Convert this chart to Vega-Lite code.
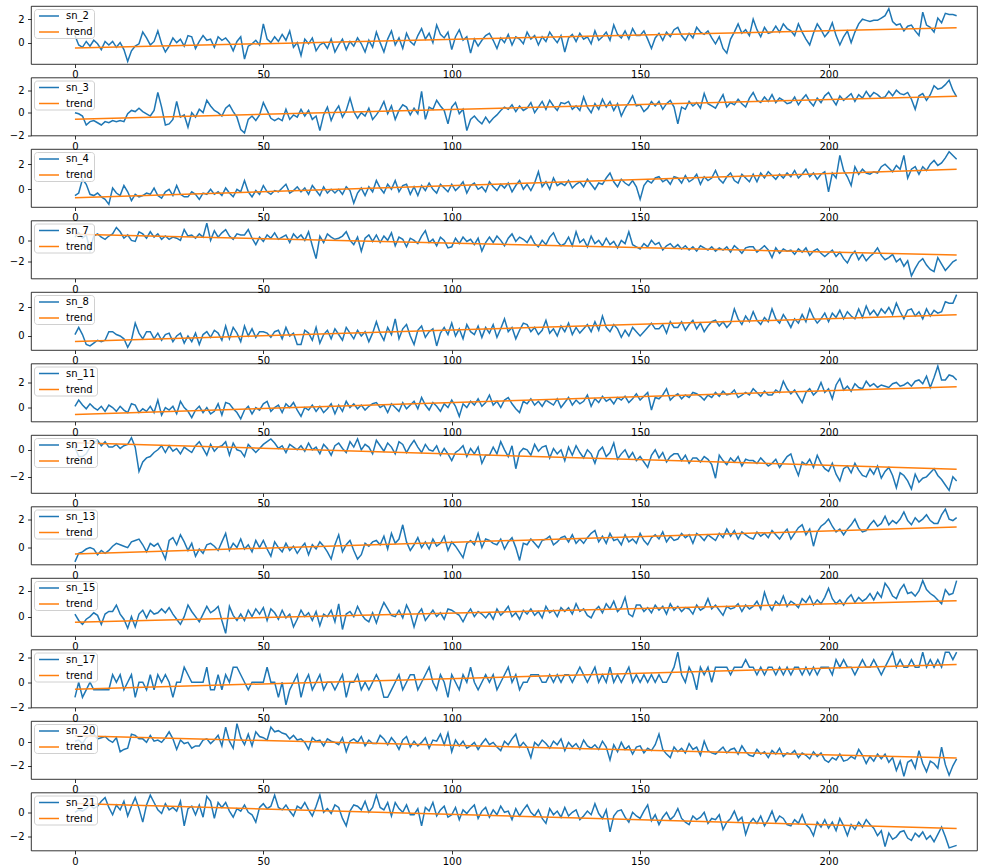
{
"$schema":"https://vega.github.io/schema/vega-lite/v6.json",
"padding":{"left":8,"top":5,"right":0,"bottom":0},
"spacing":13.5,
"bounds":"flush",
"resolve":{"scale":{"x":"independent","y":"independent","color":"independent"},"legend":{"color":"independent"}},
"config":{
"font":"DejaVu Sans",
"view":{"stroke":"#000000","strokeWidth":0.8},
"axis":{"domain":false,"grid":false,"tickColor":"#000000","tickSize":3.5,"tickWidth":0.8,"labelColor":"#000000","labelFontSize":10,"labelFont":"DejaVu Sans","labelOverlap":false,"tickCount":10,"format":"d"},
"axisX":{"labelPadding":2},
"axisY":{"labelPadding":3.5},
"legend":{"orient":"top-left","offset":3,"padding":1,"rowPadding":5,"fillColor":"rgba(255,255,255,0.8)","strokeColor":"#d0d0d0","cornerRadius":3,"symbolSize":100,"symbolStrokeWidth":1.5,"labelFontSize":10,"labelFont":"DejaVu Sans","labelColor":"#000000","labelOffset":19}
},
"datasets":{
"trend":[
{"x":0,"s2":-0.46,"s3":-0.59,"s4":-0.68,"s7":0.57,"s8":-0.39,"s11":-0.55,"s12":0.53,"s13":-0.44,"s15":-0.43,"s17":-0.55,"s20":0.56,"s21":0.71},
{"x":234,"s2":1.26,"s3":1.47,"s4":1.59,"s7":-1.37,"s8":1.49,"s11":1.66,"s12":-1.43,"s13":1.45,"s15":1.23,"s17":1.42,"s20":-1.34,"s21":-1.33}
],
"series":[
{"x":0,"s2":0.6,"s3":0,"s4":-0.5,"s7":0.3,"s8":0.1,"s11":0.1,"s12":0.2,"s13":-1,"s15":0.2,"s17":-1.2,"s20":0.1,"s21":0},
{"x":1,"s2":-0.2,"s3":-0.1,"s4":-0.3,"s7":0.7,"s8":0.6,"s11":0.6,"s12":-0.5,"s13":-0.4,"s15":-0.3,"s17":0,"s20":0.2,"s21":0.2},
{"x":2,"s2":-0.4,"s3":-0.3,"s4":0.8,"s7":0.2,"s8":0.1,"s11":0.2,"s12":-0.5,"s13":-0.3,"s15":-0.6,"s17":-1.2,"s20":-0.1,"s21":0.1},
{"x":3,"s2":0.1,"s3":-1.1,"s4":0.4,"s7":0.5,"s8":-0.6,"s11":-0.1,"s12":-0.3,"s13":-0.1,"s15":-0.2,"s17":-0.6,"s20":0.4,"s21":0.3},
{"x":4,"s2":-0.3,"s3":-0.8,"s4":-0.4,"s7":-0.9,"s8":-0.7,"s11":0.3,"s12":0.2,"s13":0,"s15":0,"s17":0,"s20":0.6,"s21":0.6},
{"x":5,"s2":0.2,"s3":-0.7,"s4":-0.5,"s7":0.4,"s8":-0.5,"s11":0,"s12":0.5,"s13":-0.1,"s15":0.3,"s17":-0.6,"s20":0.7,"s21":0.3},
{"x":6,"s2":-0.1,"s3":-0.9,"s4":-0.3,"s7":0.6,"s8":-0.3,"s11":-0.2,"s12":0.7,"s13":-0.5,"s15":0.1,"s17":-0.6,"s20":0.3,"s21":0.5},
{"x":7,"s2":-0.6,"s3":-1.1,"s4":-0.6,"s7":0.3,"s8":-0.4,"s11":0.1,"s12":0.3,"s13":-0.2,"s15":-0.6,"s17":-0.6,"s20":0.4,"s21":0.9},
{"x":8,"s2":0.1,"s3":-0.8,"s4":-0.8,"s7":0.1,"s8":-0.3,"s11":-0.3,"s12":0.6,"s13":-0.4,"s15":0.2,"s17":-0.6,"s20":0.5,"s21":1.2},
{"x":9,"s2":-0.2,"s3":-0.9,"s4":-1.2,"s7":0.4,"s8":0.3,"s11":0.2,"s12":0.2,"s13":-0.2,"s15":0.4,"s17":-0.6,"s20":0.2,"s21":0.4},
{"x":10,"s2":0.1,"s3":-0.7,"s4":0.1,"s7":0.6,"s8":0.3,"s11":0,"s12":0.2,"s13":0.1,"s15":0.4,"s17":0.6,"s20":0,"s21":-0.2},
{"x":11,"s2":-0.4,"s3":-0.8,"s4":-0.3,"s7":1.2,"s8":0.1,"s11":-0.3,"s12":0.4,"s13":0.3,"s15":0.9,"s17":0,"s20":0.4,"s21":0.6},
{"x":12,"s2":0,"s3":-0.7,"s4":-0.5,"s7":0.8,"s8":0,"s11":0.1,"s12":0.1,"s13":0.2,"s15":0.2,"s17":0.6,"s20":-0.8,"s21":0.2},
{"x":13,"s2":-0.6,"s3":-0.8,"s4":0.3,"s7":0.2,"s8":-0.2,"s11":-0.2,"s12":0.3,"s13":0.1,"s15":-0.2,"s17":-0.6,"s20":-0.6,"s21":0.9},
{"x":14,"s2":-1.6,"s3":-0.1,"s4":-0.2,"s7":0.5,"s8":-0.8,"s11":-0.4,"s12":0.4,"s13":0,"s15":-0.9,"s17":0,"s20":-0.5,"s21":-0.3},
{"x":15,"s2":-0.7,"s3":0.2,"s4":-0.9,"s7":0,"s8":-0.3,"s11":0.3,"s12":0.9,"s13":0.4,"s15":0,"s17":0.6,"s20":0.7,"s21":0.5},
{"x":16,"s2":-0.3,"s3":0.1,"s4":-0.4,"s7":-0.1,"s8":0.9,"s11":0.2,"s12":0.2,"s13":0.5,"s15":-0.8,"s17":-1.2,"s20":0.6,"s21":1.2},
{"x":17,"s2":-0.1,"s3":0.4,"s4":-0.6,"s7":0.8,"s8":0.2,"s11":-0.4,"s12":-1.6,"s13":0.6,"s15":0.2,"s17":0,"s20":0.3,"s21":0.3},
{"x":18,"s2":0.9,"s3":0.1,"s4":-0.5,"s7":0.6,"s8":-0.2,"s11":-0.1,"s12":-0.9,"s13":0.2,"s15":0.5,"s17":0,"s20":0.3,"s21":-0.8},
{"x":19,"s2":0.4,"s3":-0.1,"s4":-0.3,"s7":0.2,"s8":0.3,"s11":-0.3,"s12":-0.6,"s13":-0.3,"s15":-0.1,"s17":-0.6,"s20":0,"s21":0.6},
{"x":20,"s2":-0.2,"s3":-0.3,"s4":-0.4,"s7":0.8,"s8":0.3,"s11":0.1,"s12":-0.5,"s13":0.3,"s15":0.5,"s17":0.6,"s20":0.6,"s21":1.4},
{"x":21,"s2":0.1,"s3":0.2,"s4":0.1,"s7":0.3,"s8":-0.2,"s11":-0.4,"s12":-0.2,"s13":0.1,"s15":0.2,"s17":-0.6,"s20":0.1,"s21":0.8},
{"x":22,"s2":1,"s3":1.8,"s4":-0.5,"s7":0.6,"s8":0.2,"s11":0.6,"s12":0,"s13":0.3,"s15":0.3,"s17":0.6,"s20":0.2,"s21":0.2},
{"x":23,"s2":-0.1,"s3":0.5,"s4":-0.7,"s7":0.1,"s8":-0.3,"s11":-0.6,"s12":0.3,"s13":-0.2,"s15":0.6,"s17":0,"s20":0,"s21":-0.1},
{"x":24,"s2":-0.8,"s3":-1.1,"s4":-0.2,"s7":0.4,"s8":0.1,"s11":0,"s12":-0.2,"s13":-0.8,"s15":0.3,"s17":0.6,"s20":0.4,"s21":0.7},
{"x":25,"s2":-0.3,"s3":-1,"s4":0,"s7":0.1,"s8":0.2,"s11":-0.2,"s12":0.3,"s13":0.5,"s15":0.7,"s17":0,"s20":0.9,"s21":0.2},
{"x":26,"s2":0.4,"s3":-0.6,"s4":-0.5,"s7":0.3,"s8":-0.4,"s11":0.1,"s12":-0.1,"s13":0.7,"s15":0.2,"s17":-1.2,"s20":0.3,"s21":0.4},
{"x":27,"s2":0,"s3":1,"s4":0.3,"s7":0.2,"s8":0,"s11":-0.5,"s12":0.1,"s13":0.2,"s15":-0.2,"s17":0,"s20":-0.6,"s21":0.1},
{"x":28,"s2":0.3,"s3":-0.4,"s4":-0.4,"s7":0,"s8":0.2,"s11":0.5,"s12":-0.3,"s13":0.9,"s15":-0.6,"s17":0,"s20":0.2,"s21":0.9},
{"x":29,"s2":-0.3,"s3":-0.2,"s4":-0.6,"s7":1,"s8":-0.5,"s11":0,"s12":0.2,"s13":0.4,"s15":0,"s17":1.2,"s20":-0.1,"s21":-1.1},
{"x":30,"s2":0.6,"s3":-1.3,"s4":-0.6,"s7":0.4,"s8":0,"s11":-0.3,"s12":0,"s13":-0.2,"s15":0.9,"s17":0.6,"s20":0,"s21":0.3},
{"x":31,"s2":0.5,"s3":0,"s4":-0.2,"s7":0.5,"s8":-0.4,"s11":-0.8,"s12":-0.2,"s13":0.3,"s15":0.4,"s17":0,"s20":-0.5,"s21":0.5},
{"x":32,"s2":-0.5,"s3":-0.4,"s4":-0.4,"s7":0.2,"s8":0.2,"s11":-0.2,"s12":0.3,"s13":-0.6,"s15":0,"s17":0,"s20":-0.3,"s21":-0.2},
{"x":33,"s2":0.1,"s3":0.3,"s4":-0.8,"s7":0.6,"s8":-0.6,"s11":0.1,"s12":0.6,"s13":-0.1,"s15":-0.4,"s17":0,"s20":-0.3,"s21":0.6},
{"x":34,"s2":0.6,"s3":0,"s4":-0.3,"s7":0.3,"s8":0.1,"s11":-0.4,"s12":0.1,"s13":-0.4,"s15":0.2,"s17":0,"s20":0.2,"s21":-0.4},
{"x":35,"s2":0.2,"s3":1.1,"s4":-0.4,"s7":1.6,"s8":0.3,"s11":0,"s12":-0.4,"s13":0.2,"s15":0.8,"s17":1.2,"s20":0.3,"s21":1.3},
{"x":36,"s2":0.3,"s3":0.6,"s4":0,"s7":0,"s8":-0.1,"s11":-0.5,"s12":0.4,"s13":0.3,"s15":0.3,"s17":-0.6,"s20":-0.1,"s21":0.9},
{"x":37,"s2":-0.4,"s3":0.2,"s4":-0.4,"s7":0.9,"s8":0.4,"s11":-0.3,"s12":-0.1,"s13":0.1,"s15":0.5,"s17":-0.6,"s20":0.2,"s21":-0.5},
{"x":38,"s2":0.5,"s3":0,"s4":-0.2,"s7":0.3,"s8":0.2,"s11":0.3,"s12":0.2,"s13":-0.2,"s15":0.8,"s17":0.6,"s20":0.6,"s21":0.8},
{"x":39,"s2":0.2,"s3":-0.3,"s4":-0.5,"s7":0.7,"s8":-0.3,"s11":-0.6,"s12":0.3,"s13":0.4,"s15":-0.3,"s17":-0.6,"s20":-0.3,"s21":0.4},
{"x":40,"s2":0.4,"s3":0.4,"s4":0.1,"s7":1,"s8":0.7,"s11":0.4,"s12":0.6,"s13":1,"s15":-1.3,"s17":0.6,"s20":1.3,"s21":0.8},
{"x":41,"s2":0,"s3":0.7,"s4":-0.3,"s7":0.4,"s8":-0.2,"s11":0.3,"s12":-0.4,"s13":-0.2,"s15":0.8,"s17":0,"s20":0.1,"s21":0.1},
{"x":42,"s2":-0.7,"s3":0.1,"s4":-0.6,"s7":0.1,"s8":0.6,"s11":-0.1,"s12":0.5,"s13":0.3,"s15":0.1,"s17":1.2,"s20":-0.5,"s21":-0.4},
{"x":43,"s2":0.1,"s3":-0.4,"s4":0,"s7":0.6,"s8":0.2,"s11":-0.4,"s12":0,"s13":0,"s15":-0.3,"s17":1.2,"s20":1.6,"s21":0.3},
{"x":44,"s2":0.5,"s3":-1.5,"s4":-0.2,"s7":0.5,"s8":-0.4,"s11":-0.9,"s12":-0.1,"s13":0.6,"s15":0.2,"s17":0.6,"s20":0.4,"s21":0.1},
{"x":45,"s2":-1.4,"s3":-1.8,"s4":0.7,"s7":0.5,"s8":0.7,"s11":-0.2,"s12":-0.5,"s13":-0.1,"s15":-0.3,"s17":0,"s20":-0.2,"s21":0.6},
{"x":46,"s2":-0.3,"s3":-0.6,"s4":-0.2,"s7":1,"s8":0,"s11":0.1,"s12":0.4,"s13":0.2,"s15":0.5,"s17":-0.6,"s20":0.7,"s21":0},
{"x":47,"s2":-0.1,"s3":-0.3,"s4":-0.6,"s7":0.2,"s8":0.5,"s11":-0.5,"s12":0.1,"s13":-0.3,"s15":0,"s17":0,"s20":-0.3,"s21":-0.2},
{"x":48,"s2":0.2,"s3":-0.7,"s4":-0.1,"s7":-0.4,"s8":-0.1,"s11":0,"s12":-0.2,"s13":0.5,"s15":0.6,"s17":0,"s20":0.9,"s21":-0.8},
{"x":49,"s2":-0.2,"s3":-0.2,"s4":-0.4,"s7":0.3,"s8":0.3,"s11":-0.2,"s12":0.1,"s13":0,"s15":0.2,"s17":0,"s20":0.5,"s21":0.4},
{"x":50,"s2":1.6,"s3":0.9,"s4":0.3,"s7":-0.1,"s8":0.3,"s11":0.3,"s12":0.4,"s13":0.5,"s15":0.7,"s17":0,"s20":0.4,"s21":0.7},
{"x":51,"s2":0.3,"s3":0.2,"s4":-0.2,"s7":0.5,"s8":0.2,"s11":0.5,"s12":0.6,"s13":-0.1,"s15":-0.3,"s17":1.2,"s20":0.2,"s21":0.3},
{"x":52,"s2":0,"s3":-0.5,"s4":-0.4,"s7":0.2,"s8":-0.1,"s11":-0.3,"s12":0.8,"s13":-0.6,"s15":0.6,"s17":0,"s20":1.3,"s21":0.5},
{"x":53,"s2":0.5,"s3":-0.7,"s4":-0.1,"s7":0.7,"s8":0.3,"s11":0,"s12":0.5,"s13":0.4,"s15":0.3,"s17":0,"s20":0.9,"s21":1.4},
{"x":54,"s2":0.1,"s3":-0.5,"s4":-0.2,"s7":0.1,"s8":0.4,"s11":0.2,"s12":0.1,"s13":0,"s15":-0.2,"s17":-1.2,"s20":1,"s21":0.4},
{"x":55,"s2":0.7,"s3":-0.7,"s4":0.1,"s7":0.3,"s8":-0.2,"s11":-0.4,"s12":0.3,"s13":-0.3,"s15":0.5,"s17":0,"s20":0.8,"s21":0.2},
{"x":56,"s2":0.2,"s3":0.3,"s4":0.4,"s7":0.5,"s8":0.6,"s11":0.3,"s12":-0.2,"s13":0.3,"s15":-0.1,"s17":-1.8,"s20":0.7,"s21":0.6},
{"x":57,"s2":1,"s3":-0.6,"s4":-0.3,"s7":-0.2,"s8":0,"s11":0,"s12":0.4,"s13":-0.2,"s15":0.2,"s17":-0.6,"s20":0.3,"s21":0.1},
{"x":58,"s2":-0.4,"s3":-0.2,"s4":-0.1,"s7":0.6,"s8":0.2,"s11":0.4,"s12":0.2,"s13":0.1,"s15":-0.8,"s17":0,"s20":0.6,"s21":-0.3},
{"x":59,"s2":0,"s3":-0.4,"s4":0.2,"s7":0.2,"s8":-0.6,"s11":-0.2,"s12":0,"s13":-0.4,"s15":-0.2,"s17":0.6,"s20":0.2,"s21":0.5},
{"x":60,"s2":-1.1,"s3":0.3,"s4":-0.2,"s7":0.5,"s8":-0.6,"s11":-0.7,"s12":0.3,"s13":0,"s15":0.5,"s17":-1.2,"s20":0.3,"s21":0.3},
{"x":61,"s2":0.3,"s3":-0.3,"s4":0.1,"s7":0,"s8":0.4,"s11":0,"s12":-0.1,"s13":0.3,"s15":0,"s17":0,"s20":0,"s21":0.8},
{"x":62,"s2":-0.1,"s3":0.2,"s4":-0.4,"s7":0.8,"s8":0.2,"s11":-0.2,"s12":0.5,"s13":-0.5,"s15":0.3,"s17":0.6,"s20":-0.6,"s21":0.2},
{"x":63,"s2":0.4,"s3":-0.6,"s4":0.3,"s7":-0.5,"s8":-0.3,"s11":0.2,"s12":0,"s13":0.2,"s15":-0.3,"s17":-0.6,"s20":0.4,"s21":-0.3},
{"x":64,"s2":-0.7,"s3":-0.3,"s4":-0.1,"s7":-1.7,"s8":0.6,"s11":-0.3,"s12":0.2,"s13":-0.1,"s15":0.4,"s17":0,"s20":0.1,"s21":0.5},
{"x":65,"s2":-0.2,"s3":-1.6,"s4":-0.5,"s7":0.4,"s8":-0.5,"s11":0.1,"s12":-0.3,"s13":0.4,"s15":-0.7,"s17":0.6,"s20":0.2,"s21":1.4},
{"x":66,"s2":0,"s3":-0.2,"s4":0.2,"s7":-0.2,"s8":0.1,"s11":-0.4,"s12":0.4,"s13":0.1,"s15":0.2,"s17":-0.6,"s20":-0.3,"s21":0},
{"x":67,"s2":-0.5,"s3":0.5,"s4":-0.3,"s7":0.6,"s8":0.4,"s11":-0.1,"s12":0.1,"s13":-0.3,"s15":0,"s17":0,"s20":0.3,"s21":0.3},
{"x":68,"s2":0.3,"s3":-0.7,"s4":0,"s7":0.3,"s8":-0.2,"s11":0.3,"s12":-0.4,"s13":-0.8,"s15":0.5,"s17":0,"s20":0.1,"s21":-0.1},
{"x":69,"s2":-0.8,"s3":0.1,"s4":-0.3,"s7":0.1,"s8":0.5,"s11":-0.5,"s12":0.3,"s13":0.2,"s15":-0.4,"s17":-0.6,"s20":0,"s21":0.6},
{"x":70,"s2":-0.2,"s3":0.6,"s4":0,"s7":0.2,"s8":0.1,"s11":0.2,"s12":0.5,"s13":0.9,"s15":1,"s17":0,"s20":-0.2,"s21":0.4},
{"x":71,"s2":0.3,"s3":-0.4,"s4":-0.4,"s7":0.4,"s8":-0.3,"s11":-0.3,"s12":0.1,"s13":-0.3,"s15":-1,"s17":0.6,"s20":0.4,"s21":-0.5},
{"x":72,"s2":-0.6,"s3":0.2,"s4":0.2,"s7":0.8,"s8":0.6,"s11":0.5,"s12":-0.2,"s13":0.2,"s15":0.2,"s17":-1.2,"s20":-0.8,"s21":-1.1},
{"x":73,"s2":0.1,"s3":1.3,"s4":-0.1,"s7":0,"s8":0.2,"s11":0,"s12":0.6,"s13":0.5,"s15":0.4,"s17":0,"s20":0.1,"s21":0.1},
{"x":74,"s2":-0.3,"s3":0.1,"s4":-1.1,"s7":-0.4,"s8":-0.2,"s11":0.3,"s12":0.2,"s13":-0.2,"s15":0,"s17":0,"s20":0.3,"s21":0.6},
{"x":75,"s2":0.4,"s3":-0.5,"s4":-0.3,"s7":0.3,"s8":0.4,"s11":-0.1,"s12":0.8,"s13":-0.8,"s15":0.8,"s17":0.6,"s20":0,"s21":0.5},
{"x":76,"s2":-0.1,"s3":0,"s4":0.1,"s7":-1,"s8":0,"s11":0.2,"s12":0,"s13":-0.5,"s15":0.2,"s17":-0.6,"s20":0.5,"s21":0.2},
{"x":77,"s2":-0.8,"s3":-0.3,"s4":-0.5,"s7":0.2,"s8":0.3,"s11":-0.2,"s12":0.4,"s13":0.3,"s15":-0.2,"s17":0,"s20":-0.3,"s21":0.9},
{"x":78,"s2":0.2,"s3":0.4,"s4":0.2,"s7":0.5,"s8":-0.4,"s11":0.1,"s12":0.2,"s13":0.1,"s15":-0.4,"s17":-0.6,"s20":0.2,"s21":0},
{"x":79,"s2":-0.4,"s3":-0.6,"s4":-0.2,"s7":-0.1,"s8":0.2,"s11":0.3,"s12":-0.3,"s13":0.4,"s15":0.3,"s17":0,"s20":-0.1,"s21":0.4},
{"x":80,"s2":0.9,"s3":-0.2,"s4":0.7,"s7":0.5,"s8":1,"s11":0.4,"s12":0.7,"s13":0.5,"s15":-0.5,"s17":0.6,"s20":-0.1,"s21":1.4},
{"x":81,"s2":0,"s3":0.3,"s4":0.1,"s7":-0.2,"s8":0.2,"s11":0,"s12":0.3,"s13":0.2,"s15":0.4,"s17":0,"s20":0.6,"s21":0.4},
{"x":82,"s2":-0.8,"s3":1,"s4":-0.3,"s7":0.4,"s8":-0.3,"s11":0.2,"s12":-0.1,"s13":0.8,"s15":1.1,"s17":-1.2,"s20":0.3,"s21":0.2},
{"x":83,"s2":0.3,"s3":-0.1,"s4":0.4,"s7":0,"s8":0.6,"s11":-0.4,"s12":0.5,"s13":-0.1,"s15":0.6,"s17":-1.2,"s20":-0.2,"s21":0.8},
{"x":84,"s2":1,"s3":0.6,"s4":0,"s7":0.7,"s8":0.1,"s11":0.3,"s12":0.2,"s13":1,"s15":0.1,"s17":-0.6,"s20":0.4,"s21":-0.3},
{"x":85,"s2":-0.2,"s3":-0.6,"s4":0.7,"s7":-0.5,"s8":1.2,"s11":0,"s12":-0.3,"s13":0.3,"s15":0,"s17":0,"s20":0,"s21":0.8},
{"x":86,"s2":0.4,"s3":0.2,"s4":-0.2,"s7":0.3,"s8":-0.2,"s11":-0.3,"s12":0.6,"s13":0.6,"s15":0.5,"s17":0.6,"s20":-0.6,"s21":0.3},
{"x":87,"s2":-0.5,"s3":0.7,"s4":0.3,"s7":0.1,"s8":0.5,"s11":0.4,"s12":0.4,"s13":1.6,"s15":-0.1,"s17":-0.6,"s20":0.2,"s21":0},
{"x":88,"s2":0.8,"s3":0.5,"s4":0.4,"s7":-0.6,"s8":0.8,"s11":-0.1,"s12":-0.2,"s13":0.4,"s15":0.9,"s17":0,"s20":0.5,"s21":0.6},
{"x":89,"s2":0.1,"s3":-0.2,"s4":-0.4,"s7":0.2,"s8":0,"s11":0.2,"s12":0.3,"s13":-0.2,"s15":0.3,"s17":0.6,"s20":-0.4,"s21":-0.2},
{"x":90,"s2":-0.2,"s3":0.4,"s4":0.2,"s7":0,"s8":-0.6,"s11":0.5,"s12":0.7,"s13":0.2,"s15":-0.8,"s17":0.6,"s20":0.1,"s21":-0.2},
{"x":91,"s2":0.6,"s3":-0.1,"s4":-0.5,"s7":-0.3,"s8":0.4,"s11":-0.1,"s12":0.2,"s13":0.7,"s15":0.2,"s17":-0.6,"s20":-0.3,"s21":0.3},
{"x":92,"s2":1.2,"s3":1.9,"s4":0.3,"s7":0.4,"s8":0.7,"s11":0.8,"s12":-0.2,"s13":0,"s15":0.6,"s17":0,"s20":0,"s21":-1.1},
{"x":93,"s2":0.3,"s3":-0.6,"s4":-0.1,"s7":0.9,"s8":-0.1,"s11":0.2,"s12":0.4,"s13":0.4,"s15":-0.3,"s17":0.6,"s20":0.4,"s21":0.4},
{"x":94,"s2":0.8,"s3":0.5,"s4":0.5,"s7":-0.2,"s8":0.3,"s11":-0.2,"s12":0,"s13":-0.1,"s15":0.1,"s17":1.2,"s20":-0.5,"s21":0.1},
{"x":95,"s2":0,"s3":0.3,"s4":0,"s7":0.1,"s8":0.5,"s11":0.4,"s12":-0.1,"s13":0.6,"s15":0.5,"s17":0,"s20":0.2,"s21":0.8},
{"x":96,"s2":1.5,"s3":1.1,"s4":-0.3,"s7":-0.5,"s8":-0.7,"s11":0.1,"s12":0.3,"s13":0.1,"s15":0,"s17":-0.6,"s20":0.1,"s21":-0.3},
{"x":97,"s2":0.7,"s3":0.6,"s4":0.4,"s7":0.3,"s8":0.2,"s11":-0.3,"s12":-0.4,"s13":0.3,"s15":0.3,"s17":0.6,"s20":0.7,"s21":0.2},
{"x":98,"s2":0.4,"s3":0.2,"s4":0.1,"s7":0,"s8":0.6,"s11":0.3,"s12":0.1,"s13":0.8,"s15":-0.2,"s17":0,"s20":-0.2,"s21":0.5},
{"x":99,"s2":0.9,"s3":-1,"s4":-0.2,"s7":-0.7,"s8":0.1,"s11":0,"s12":-0.3,"s13":-0.2,"s15":0.6,"s17":-1.2,"s20":0.8,"s21":-0.4},
{"x":100,"s2":-0.6,"s3":0.5,"s4":0.4,"s7":-0.6,"s8":0.9,"s11":0.6,"s12":-0.8,"s13":0.4,"s15":0.5,"s17":0.6,"s20":-0.8,"s21":-0.2},
{"x":101,"s2":0.5,"s3":0.9,"s4":-0.1,"s7":0.2,"s8":0,"s11":0.1,"s12":-0.2,"s13":0.1,"s15":0.3,"s17":0,"s20":0.2,"s21":0.4},
{"x":102,"s2":1.1,"s3":-0.1,"s4":0.2,"s7":-0.3,"s8":0.5,"s11":-0.7,"s12":0,"s13":-0.3,"s15":0.1,"s17":-0.6,"s20":-0.3,"s21":-0.6},
{"x":103,"s2":0.2,"s3":0.3,"s4":0.6,"s7":0.3,"s8":-0.2,"s11":0.3,"s12":0.3,"s13":-0.7,"s15":-0.4,"s17":0.6,"s20":0.1,"s21":0.2},
{"x":104,"s2":0.5,"s3":-1.6,"s4":-0.3,"s7":-0.1,"s8":0.8,"s11":0,"s12":-0.5,"s13":0.3,"s15":0.2,"s17":0,"s20":-0.5,"s21":-0.1},
{"x":105,"s2":-0.9,"s3":-0.6,"s4":0.3,"s7":0.1,"s8":0.3,"s11":0.5,"s12":0.1,"s13":0.5,"s15":0.6,"s17":1.2,"s20":-0.3,"s21":0.3},
{"x":106,"s2":0.3,"s3":-0.3,"s4":0.5,"s7":-0.4,"s8":0.1,"s11":0.2,"s12":-0.3,"s13":0.2,"s15":0,"s17":0,"s20":0,"s21":0.6},
{"x":107,"s2":-0.3,"s3":-0.7,"s4":0,"s7":0.2,"s8":0.7,"s11":0.7,"s12":0.2,"s13":1,"s15":0.4,"s17":-0.6,"s20":-0.6,"s21":-0.5},
{"x":108,"s2":0.2,"s3":-1,"s4":0.2,"s7":-1,"s8":-0.1,"s11":0.1,"s12":-1,"s13":0,"s15":0.2,"s17":0,"s20":-0.1,"s21":0.1},
{"x":109,"s2":0.6,"s3":-0.4,"s4":-0.2,"s7":-0.2,"s8":0.6,"s11":0.4,"s12":-0.4,"s13":0.6,"s15":-0.1,"s17":0.6,"s20":0.3,"s21":0.4},
{"x":110,"s2":0.8,"s3":-0.9,"s4":0.6,"s7":0.3,"s8":0.2,"s11":1,"s12":-0.4,"s13":0.5,"s15":0.3,"s17":0,"s20":-0.2,"s21":-0.4},
{"x":111,"s2":0.2,"s3":-0.5,"s4":0.2,"s7":-0.2,"s8":0.8,"s11":0.2,"s12":0.2,"s13":0.3,"s15":-0.2,"s17":0.6,"s20":0,"s21":0.2},
{"x":112,"s2":-0.5,"s3":-0.2,"s4":-0.1,"s7":0.4,"s8":-0.1,"s11":0.5,"s12":-0.3,"s13":0.2,"s15":0.6,"s17":-0.6,"s20":-0.4,"s21":-0.2},
{"x":113,"s2":0.4,"s3":0.2,"s4":0.4,"s7":0,"s8":0.5,"s11":0,"s12":0.6,"s13":0.6,"s15":0.1,"s17":0,"s20":-0.7,"s21":0.5},
{"x":114,"s2":0,"s3":0.5,"s4":0.1,"s7":-0.5,"s8":1.2,"s11":0.6,"s12":0,"s13":-0.1,"s15":0.4,"s17":0.6,"s20":0.1,"s21":0},
{"x":115,"s2":0.7,"s3":0.3,"s4":0.5,"s7":0.2,"s8":0.3,"s11":0.8,"s12":-0.5,"s13":0.4,"s15":0.8,"s17":1.2,"s20":-0.2,"s21":0.1},
{"x":116,"s2":-0.2,"s3":0.7,"s4":-0.2,"s7":0.6,"s8":0.6,"s11":0.3,"s12":0.3,"s13":0.7,"s15":0,"s17":0,"s20":0.3,"s21":-0.6},
{"x":117,"s2":0.5,"s3":0.1,"s4":0.3,"s7":-0.1,"s8":-0.2,"s11":-0.1,"s12":-1.4,"s13":0,"s15":0.3,"s17":0.6,"s20":0.7,"s21":0.3},
{"x":118,"s2":0.3,"s3":0.6,"s4":0.7,"s7":0.3,"s8":0.4,"s11":-0.4,"s12":-0.2,"s13":-0.9,"s15":-0.2,"s17":-0.6,"s20":-0.4,"s21":-0.3},
{"x":119,"s2":-0.1,"s3":0.2,"s4":0,"s7":0.1,"s8":0.9,"s11":0.5,"s12":0.1,"s13":0.3,"s15":0.5,"s17":0,"s20":0,"s21":0.2},
{"x":120,"s2":0.9,"s3":0.4,"s4":0.4,"s7":-0.2,"s8":0.8,"s11":0.3,"s12":0,"s13":0.2,"s15":0.2,"s17":0,"s20":-0.4,"s21":0.6},
{"x":121,"s2":0.3,"s3":0.9,"s4":-0.1,"s7":0.4,"s8":0.3,"s11":0.7,"s12":-0.4,"s13":0.6,"s15":0.6,"s17":0.6,"s20":-1.3,"s21":0},
{"x":122,"s2":0.6,"s3":0,"s4":0.5,"s7":-0.3,"s8":0.6,"s11":0.2,"s12":0.4,"s13":0.3,"s15":0.1,"s17":0.6,"s20":0,"s21":-0.3},
{"x":123,"s2":-0.2,"s3":0.5,"s4":1.4,"s7":-0.6,"s8":0.1,"s11":0.5,"s12":-0.1,"s13":0,"s15":0.4,"s17":0.6,"s20":-0.3,"s21":0.2},
{"x":124,"s2":0.5,"s3":1,"s4":0.2,"s7":0,"s8":0.4,"s11":0.1,"s12":0.2,"s13":0.5,"s15":-0.1,"s17":0,"s20":0.2,"s21":-0.5},
{"x":125,"s2":0.1,"s3":0.3,"s4":0.6,"s7":-0.4,"s8":1.1,"s11":0.6,"s12":0.3,"s13":0.6,"s15":0.8,"s17":0,"s20":-0.1,"s21":-0.9},
{"x":126,"s2":0.9,"s3":1.1,"s4":0,"s7":0.3,"s8":0.2,"s11":0.4,"s12":-0.6,"s13":0.8,"s15":0.3,"s17":0.6,"s20":-0.5,"s21":0.3},
{"x":127,"s2":0.4,"s3":0.6,"s4":0.9,"s7":0.7,"s8":0.5,"s11":0.2,"s12":0.1,"s13":0.2,"s15":0.5,"s17":0,"s20":0.1,"s21":-0.2},
{"x":128,"s2":0,"s3":0.2,"s4":0.3,"s7":-0.1,"s8":0,"s11":0.7,"s12":-0.3,"s13":0.4,"s15":0,"s17":0.6,"s20":-0.2,"s21":0.1},
{"x":129,"s2":0.6,"s3":0.9,"s4":0.5,"s7":-0.5,"s8":0.7,"s11":0,"s12":0,"s13":0.7,"s15":0.7,"s17":0,"s20":0.3,"s21":-0.4},
{"x":130,"s2":-0.8,"s3":0.8,"s4":0.3,"s7":-0.3,"s8":0.3,"s11":0.4,"s12":-0.8,"s13":0.8,"s15":0.4,"s17":0.6,"s20":-0.7,"s21":0.4},
{"x":131,"s2":0.4,"s3":1,"s4":0.7,"s7":0.3,"s8":0.9,"s11":0.8,"s12":0.2,"s13":0.4,"s15":0.7,"s17":0.6,"s20":0,"s21":-0.3},
{"x":132,"s2":0.7,"s3":0.3,"s4":0.1,"s7":-0.5,"s8":0.1,"s11":0.2,"s12":-0.4,"s13":0.9,"s15":0.2,"s17":0,"s20":-0.4,"s21":0},
{"x":133,"s2":0.1,"s3":0.6,"s4":0.4,"s7":0.8,"s8":0.6,"s11":0.6,"s12":0.3,"s13":0.3,"s15":1,"s17":0.6,"s20":-0.1,"s21":0.2},
{"x":134,"s2":0.8,"s3":0.2,"s4":0.6,"s7":-0.2,"s8":0.2,"s11":0.3,"s12":-0.2,"s13":0.6,"s15":0.4,"s17":1.2,"s20":-0.6,"s21":-0.6},
{"x":135,"s2":0.3,"s3":1.4,"s4":0.2,"s7":0.1,"s8":0.5,"s11":0.5,"s12":-0.6,"s13":0.3,"s15":0.6,"s17":0.6,"s20":0.2,"s21":-0.3},
{"x":136,"s2":0.5,"s3":0.5,"s4":0.8,"s7":-0.6,"s8":0.8,"s11":1,"s12":0,"s13":0.7,"s15":0.1,"s17":0,"s20":-0.3,"s21":0.1},
{"x":137,"s2":-0.1,"s3":0,"s4":0.4,"s7":0.4,"s8":0.3,"s11":0.1,"s12":-0.3,"s13":1,"s15":-0.1,"s17":0.6,"s20":-0.5,"s21":-0.2},
{"x":138,"s2":1,"s3":0.8,"s4":0,"s7":-0.3,"s8":1,"s11":0.7,"s12":-1,"s13":1.2,"s15":0.5,"s17":1.2,"s20":-0.2,"s21":0.7},
{"x":139,"s2":0.2,"s3":0.3,"s4":0.5,"s7":0,"s8":0.4,"s11":0.4,"s12":-0.1,"s13":0.4,"s15":0.8,"s17":0,"s20":-0.6,"s21":-0.1},
{"x":140,"s2":0.5,"s3":1.2,"s4":0.4,"s7":-0.5,"s8":1.4,"s11":0.9,"s12":0.2,"s13":0.8,"s15":0.3,"s17":0.6,"s20":0.1,"s21":-0.5},
{"x":141,"s2":0.9,"s3":0.5,"s4":0.9,"s7":0.2,"s8":0.6,"s11":0.5,"s12":-0.5,"s13":0.3,"s15":1,"s17":0,"s20":-0.4,"s21":0.2},
{"x":142,"s2":0.2,"s3":1,"s4":1.3,"s7":-0.4,"s8":0.3,"s11":0.7,"s12":-0.2,"s13":1,"s15":0.6,"s17":1.2,"s20":-1.5,"s21":-1.6},
{"x":143,"s2":1.5,"s3":0.2,"s4":0.6,"s7":-0.1,"s8":0.8,"s11":0.3,"s12":0.5,"s13":0.5,"s15":1.2,"s17":0,"s20":-0.2,"s21":-0.3},
{"x":144,"s2":0.7,"s3":0.8,"s4":0.2,"s7":-0.7,"s8":0.5,"s11":0.8,"s12":-0.7,"s13":0.6,"s15":0.4,"s17":0.6,"s20":-0.8,"s21":0.1},
{"x":145,"s2":0.4,"s3":-0.3,"s4":0.8,"s7":0,"s8":-0.1,"s11":0.6,"s12":-0.3,"s13":0.2,"s15":0.7,"s17":0,"s20":0,"s21":0.2},
{"x":146,"s2":1,"s3":0.4,"s4":0.5,"s7":-0.3,"s8":0.4,"s11":0.9,"s12":0,"s13":0.9,"s15":1.5,"s17":0.6,"s20":-0.6,"s21":-0.4},
{"x":147,"s2":0.3,"s3":0.9,"s4":0.3,"s7":0.8,"s8":0,"s11":0.4,"s12":-0.6,"s13":0.4,"s15":0.2,"s17":1.2,"s20":-0.3,"s21":-0.8},
{"x":148,"s2":1.2,"s3":1.5,"s4":0.7,"s7":-0.4,"s8":0.6,"s11":0.7,"s12":-0.2,"s13":0.6,"s15":0,"s17":0,"s20":-1,"s21":0},
{"x":149,"s2":0.6,"s3":0.6,"s4":0.2,"s7":-0.6,"s8":0.3,"s11":1.1,"s12":-0.8,"s13":0.3,"s15":0.9,"s17":0.6,"s20":-0.4,"s21":-0.3},
{"x":150,"s2":0.6,"s3":0.7,"s4":-0.8,"s7":-0.8,"s8":0,"s11":0.6,"s12":-0.5,"s13":1,"s15":0.9,"s17":0,"s20":-0.3,"s21":-0.5},
{"x":151,"s2":1,"s3":0.1,"s4":0.3,"s7":-0.3,"s8":0.3,"s11":0.9,"s12":-0.9,"s13":0.5,"s15":0.4,"s17":0.6,"s20":-0.9,"s21":0.1},
{"x":152,"s2":0.3,"s3":0.4,"s4":0.7,"s7":-0.6,"s8":0.6,"s11":1.2,"s12":-1.3,"s13":0.2,"s15":0.7,"s17":0,"s20":-0.5,"s21":0.6},
{"x":153,"s2":-0.5,"s3":1,"s4":0.5,"s7":0,"s8":0.9,"s11":-0.2,"s12":-0.4,"s13":0.7,"s15":0.3,"s17":0.6,"s20":-0.7,"s21":-0.7},
{"x":154,"s2":0.4,"s3":0.6,"s4":0.9,"s7":-0.4,"s8":0.5,"s11":0.8,"s12":0,"s13":0.9,"s15":0.9,"s17":0,"s20":-0.2,"s21":-0.2},
{"x":155,"s2":0.8,"s3":1,"s4":1,"s7":-0.2,"s8":0.5,"s11":0.7,"s12":-0.6,"s13":0.6,"s15":0.5,"s17":0.6,"s20":0.7,"s21":-1},
{"x":156,"s2":0.2,"s3":0.3,"s4":0.6,"s7":-0.9,"s8":0.8,"s11":1,"s12":-0.2,"s13":1.1,"s15":0.8,"s17":0,"s20":-0.6,"s21":-0.4},
{"x":157,"s2":0.9,"s3":0.8,"s4":0.8,"s7":-0.5,"s8":0.2,"s11":1.5,"s12":-0.9,"s13":0.4,"s15":0.2,"s17":0,"s20":-1,"s21":0},
{"x":158,"s2":0.5,"s3":1.1,"s4":0.4,"s7":-0.3,"s8":1,"s11":0.6,"s12":-0.5,"s13":0.8,"s15":1,"s17":0.6,"s20":-1.3,"s21":-0.6},
{"x":159,"s2":1.1,"s3":0.5,"s4":1,"s7":-0.7,"s8":0.6,"s11":0.9,"s12":-0.3,"s13":0.5,"s15":0.5,"s17":1.2,"s20":-0.4,"s21":-0.3},
{"x":160,"s2":1.3,"s3":-1,"s4":0.9,"s7":-0.4,"s8":0.6,"s11":1.1,"s12":-0.3,"s13":0.6,"s15":0.8,"s17":2.4,"s20":-0.8,"s21":0.3},
{"x":161,"s2":0.6,"s3":0.5,"s4":0.5,"s7":-0.8,"s8":1,"s11":0.7,"s12":-0.8,"s13":1,"s15":0.4,"s17":0.6,"s20":-0.5,"s21":-0.5},
{"x":162,"s2":0.2,"s3":0.3,"s4":1.1,"s7":-0.5,"s8":0.4,"s11":1,"s12":-0.4,"s13":0.7,"s15":0.7,"s17":0,"s20":-0.9,"s21":-0.8},
{"x":163,"s2":0.8,"s3":1,"s4":0.6,"s7":-0.9,"s8":0.8,"s11":0.8,"s12":-1,"s13":0.9,"s15":0.6,"s17":1.2,"s20":-0.1,"s21":-1},
{"x":164,"s2":0.4,"s3":0.6,"s4":0.8,"s7":-0.6,"s8":1.1,"s11":1.2,"s12":-0.6,"s13":0.3,"s15":0.2,"s17":0.6,"s20":-0.6,"s21":-0.3},
{"x":165,"s2":1.3,"s3":0.9,"s4":1.2,"s7":-1,"s8":0.5,"s11":1.1,"s12":-0.6,"s13":1,"s15":0.9,"s17":-0.6,"s20":-0.4,"s21":-0.6},
{"x":166,"s2":0.9,"s3":0.4,"s4":0.4,"s7":-0.5,"s8":0.9,"s11":0.9,"s12":-0.9,"s13":0.8,"s15":0.5,"s17":1.2,"s20":-1.1,"s21":-0.4},
{"x":167,"s2":0.7,"s3":1.7,"s4":1,"s7":-0.7,"s8":0.3,"s11":0.6,"s12":-0.5,"s13":0.5,"s15":0.7,"s17":0.6,"s20":0.1,"s21":0},
{"x":168,"s2":1,"s3":0.8,"s4":0.7,"s7":-0.9,"s8":0.7,"s11":1,"s12":-0.7,"s13":0.9,"s15":1.4,"s17":1.2,"s20":-0.7,"s21":-0.9},
{"x":169,"s2":0.4,"s3":0.6,"s4":0.9,"s7":-0.6,"s8":1,"s11":0.8,"s12":-1.1,"s13":0.7,"s15":0.6,"s17":0,"s20":-0.9,"s21":-0.5},
{"x":170,"s2":-0.1,"s3":0.4,"s4":1.5,"s7":-1,"s8":1.1,"s11":1.2,"s12":-2.1,"s13":0.5,"s15":0.9,"s17":1.2,"s20":-1,"s21":-0.6},
{"x":171,"s2":0.5,"s3":1,"s4":0.8,"s7":-0.7,"s8":0.7,"s11":0.9,"s12":-0.4,"s13":1,"s15":0.5,"s17":1.2,"s20":-0.7,"s21":-0.2},
{"x":172,"s2":-0.5,"s3":1.6,"s4":0.5,"s7":-0.9,"s8":1,"s11":1.3,"s12":-0.8,"s13":0.7,"s15":0.1,"s17":1.2,"s20":-0.4,"s21":-1.4},
{"x":173,"s2":-0.9,"s3":0.5,"s4":1,"s7":-0.6,"s8":0.6,"s11":1,"s12":-1.1,"s13":1.3,"s15":0.8,"s17":1.2,"s20":-0.9,"s21":-0.8},
{"x":174,"s2":0.3,"s3":0.9,"s4":1.3,"s7":-1.1,"s8":0.9,"s11":1.1,"s12":-0.6,"s13":0.8,"s15":0.6,"s17":0.6,"s20":-0.6,"s21":-0.5},
{"x":175,"s2":0.9,"s3":0.7,"s4":0.7,"s7":-0.5,"s8":1.9,"s11":1.4,"s12":-0.9,"s13":1.2,"s15":0.7,"s17":1.2,"s20":-0.5,"s21":0.1},
{"x":176,"s2":1.6,"s3":1.2,"s4":0.5,"s7":-0.8,"s8":1.2,"s11":0.8,"s12":-0.5,"s13":0.6,"s15":1,"s17":1.2,"s20":-1,"s21":-0.7},
{"x":177,"s2":0.8,"s3":0.8,"s4":1.2,"s7":-1.2,"s8":0.8,"s11":1,"s12":-1.2,"s13":1.1,"s15":0.4,"s17":1.2,"s20":-0.3,"s21":-0.4},
{"x":178,"s2":1.1,"s3":0.5,"s4":0.9,"s7":-0.7,"s8":1.4,"s11":1.2,"s12":-0.7,"s13":0.9,"s15":0.9,"s17":1.8,"s20":-0.8,"s21":-1.8},
{"x":179,"s2":0.6,"s3":1.3,"s4":0.6,"s7":-0.6,"s8":1,"s11":1,"s12":-0.8,"s13":0.7,"s15":0.6,"s17":1.2,"s20":-1.1,"s21":-0.9},
{"x":180,"s2":2,"s3":1.8,"s4":1.2,"s7":-0.6,"s8":1.7,"s11":1.5,"s12":-0.8,"s13":0.6,"s15":0.8,"s17":1.2,"s20":-1.2,"s21":-0.5},
{"x":181,"s2":1.1,"s3":1.1,"s4":0.6,"s7":-1.1,"s8":1.1,"s11":1.2,"s12":-1,"s13":1.1,"s15":1.2,"s17":0.6,"s20":-0.6,"s21":-0.9},
{"x":182,"s2":0.5,"s3":0.9,"s4":1.3,"s7":-0.8,"s8":0.8,"s11":0.9,"s12":-0.6,"s13":0.8,"s15":0.6,"s17":1.2,"s20":-1,"s21":-0.3},
{"x":183,"s2":1.3,"s3":1.4,"s4":0.9,"s7":-0.5,"s8":1.3,"s11":1.3,"s12":-0.9,"s13":1,"s15":1.9,"s17":0.6,"s20":-0.8,"s21":-1.1},
{"x":184,"s2":0.8,"s3":1,"s4":1.4,"s7":-0.9,"s8":1,"s11":1,"s12":-1.2,"s13":0.7,"s15":1,"s17":1.2,"s20":-1.3,"s21":-0.6},
{"x":185,"s2":0.9,"s3":1.6,"s4":1.1,"s7":-1.6,"s8":1.9,"s11":1,"s12":-1,"s13":1.2,"s15":0.5,"s17":1.2,"s20":-0.7,"s21":0.1},
{"x":186,"s2":1.4,"s3":0.9,"s4":0.8,"s7":-0.7,"s8":1.2,"s11":1.4,"s12":-0.7,"s13":0.9,"s15":1.2,"s17":0.6,"s20":-1,"s21":-0.8},
{"x":187,"s2":0.9,"s3":1.3,"s4":1.2,"s7":-1.2,"s8":0.9,"s11":1.2,"s12":-1.3,"s13":0.6,"s15":0.9,"s17":1.2,"s20":-0.5,"s21":-0.3},
{"x":188,"s2":1.6,"s3":1.1,"s4":0.9,"s7":-0.8,"s8":1.5,"s11":2.1,"s12":-0.9,"s13":1,"s15":1.6,"s17":0.6,"s20":-1.2,"s21":-0.5},
{"x":189,"s2":1.2,"s3":0.8,"s4":1.3,"s7":-1,"s8":1.1,"s11":1.5,"s12":-0.5,"s13":1.3,"s15":0.8,"s17":1.2,"s20":-0.9,"s21":-1},
{"x":190,"s2":1,"s3":0.9,"s4":1,"s7":-0.9,"s8":0.6,"s11":1.1,"s12":-0.3,"s13":0.6,"s15":1.2,"s17":0.6,"s20":-1,"s21":-1.1},
{"x":191,"s2":0.6,"s3":1.4,"s4":1.5,"s7":-1.3,"s8":1.2,"s11":1.4,"s12":-1.2,"s13":1,"s15":1,"s17":1.2,"s20":-0.7,"s21":-0.6},
{"x":192,"s2":1.6,"s3":0.7,"s4":0.9,"s7":-0.8,"s8":0.9,"s11":0.9,"s12":-1.9,"s13":1.4,"s15":0.7,"s17":1.2,"s20":-1.3,"s21":-0.9},
{"x":193,"s2":0.9,"s3":1.2,"s4":1.2,"s7":-1.1,"s8":1.5,"s11":0.4,"s12":-0.9,"s13":1.6,"s15":1.4,"s17":0.6,"s20":-0.9,"s21":-0.2},
{"x":194,"s2":0.3,"s3":1.6,"s4":1.6,"s7":-0.7,"s8":1,"s11":1.2,"s12":-1.1,"s13":0.9,"s15":1.1,"s17":1.2,"s20":-1.1,"s21":-1},
{"x":195,"s2":-0.2,"s3":1,"s4":1,"s7":-1.4,"s8":1.9,"s11":1.5,"s12":-0.7,"s13":1.3,"s15":1.6,"s17":0.6,"s20":-1.4,"s21":-1.3},
{"x":196,"s2":0.8,"s3":0.6,"s4":1.3,"s7":-1,"s8":1.3,"s11":1,"s12":-1.3,"s13":0.1,"s15":0.9,"s17":1.2,"s20":-0.8,"s21":-1.9},
{"x":197,"s2":1.6,"s3":1.3,"s4":0.8,"s7":-0.8,"s8":0.9,"s11":1.3,"s12":-0.4,"s13":1.1,"s15":1.3,"s17":0.6,"s20":-1.2,"s21":-0.8},
{"x":198,"s2":1.1,"s3":0.9,"s4":1.2,"s7":-1.2,"s8":1.2,"s11":2,"s12":-1,"s13":1.5,"s15":1,"s17":1.2,"s20":-0.9,"s21":-1.2},
{"x":199,"s2":0.5,"s3":1.5,"s4":1.4,"s7":-1.5,"s8":1.6,"s11":1.2,"s12":-1.4,"s13":1.7,"s15":1.5,"s17":1.2,"s20":-1.5,"s21":-0.6},
{"x":200,"s2":0.9,"s3":1.8,"s4":-0.2,"s7":-1.2,"s8":1,"s11":1.5,"s12":-1.6,"s13":2,"s15":2.2,"s17":1.2,"s20":-1.7,"s21":-1.3},
{"x":201,"s2":1.7,"s3":1.2,"s4":1.3,"s7":-0.9,"s8":1.6,"s11":0.7,"s12":-1,"s13":1.5,"s15":1.4,"s17":0.6,"s20":-1.3,"s21":-0.8},
{"x":202,"s2":0.6,"s3":0.7,"s4":0.9,"s7":-1.5,"s8":1.3,"s11":1.8,"s12":-1.8,"s13":1.1,"s15":1,"s17":1.8,"s20":-1.5,"s21":-1.5},
{"x":203,"s2":-0.2,"s3":1.5,"s4":2.7,"s7":-1.1,"s8":1.8,"s11":2.3,"s12":-2.3,"s13":1.3,"s15":1.3,"s17":1.2,"s20":-1,"s21":-0.5},
{"x":204,"s2":0.5,"s3":1.1,"s4":1.5,"s7":-1.7,"s8":1.2,"s11":1.4,"s12":-1.4,"s13":0.9,"s15":0.9,"s17":1.8,"s20":-1.6,"s21":-1.1},
{"x":205,"s2":1,"s3":1.4,"s4":1,"s7":-2.1,"s8":1.7,"s11":1.7,"s12":-1.2,"s13":1.3,"s15":1.4,"s17":1.2,"s20":-1.5,"s21":-1.9},
{"x":206,"s2":0,"s3":1.7,"s4":0.3,"s7":-1.4,"s8":1.4,"s11":1.3,"s12":-1.7,"s13":1.6,"s15":1.7,"s17":1.2,"s20":-1.2,"s21":-1},
{"x":207,"s2":0.9,"s3":1,"s4":1.8,"s7":-1,"s8":1.2,"s11":1.9,"s12":-1,"s13":2,"s15":1.1,"s17":0.6,"s20":-1.4,"s21":-1.4},
{"x":208,"s2":1.6,"s3":1.6,"s4":1.2,"s7":-1.8,"s8":1.9,"s11":1.6,"s12":-1.5,"s13":1.4,"s15":1.5,"s17":1.2,"s20":-0.6,"s21":-0.8},
{"x":209,"s2":2,"s3":1.3,"s4":1.6,"s7":-1.3,"s8":1.3,"s11":1.5,"s12":-1.9,"s13":1.1,"s15":1.2,"s17":1.8,"s20":-1.1,"s21":-1.2},
{"x":210,"s2":1.9,"s3":1.9,"s4":1.3,"s7":-1.9,"s8":2.1,"s11":2.1,"s12":-2,"s13":1.2,"s15":1.4,"s17":1.2,"s20":-1.8,"s21":-0.6},
{"x":211,"s2":1.8,"s3":1.4,"s4":1.2,"s7":-1.5,"s8":1.5,"s11":1.7,"s12":-1.4,"s13":1.6,"s15":1.8,"s17":1.2,"s20":-1.2,"s21":-1},
{"x":212,"s2":1.9,"s3":1.8,"s4":1.4,"s7":-1.2,"s8":1.8,"s11":1.9,"s12":-1.8,"s13":1.9,"s15":1.3,"s17":1.8,"s20":-1.6,"s21":-1.3},
{"x":213,"s2":1.9,"s3":1.6,"s4":1.3,"s7":-0.7,"s8":1.4,"s11":1.6,"s12":-1.2,"s13":1.5,"s15":1.9,"s17":1.2,"s20":-1,"s21":-1.9},
{"x":214,"s2":2.1,"s3":1.3,"s4":1.8,"s7":-1.4,"s8":1.9,"s11":1.8,"s12":-2.1,"s13":1.7,"s15":1.5,"s17":0.6,"s20":-1.4,"s21":-1.5},
{"x":215,"s2":2.3,"s3":1.4,"s4":2,"s7":-1.8,"s8":1.6,"s11":1.7,"s12":-1.6,"s13":2.2,"s15":2.6,"s17":1.2,"s20":-1,"s21":-2.8},
{"x":216,"s2":2.9,"s3":1.9,"s4":1.7,"s7":-1.6,"s8":2,"s11":1.6,"s12":-1.3,"s13":1.6,"s15":2.2,"s17":1.8,"s20":-1.7,"s21":-1.7},
{"x":217,"s2":1.8,"s3":1.5,"s4":1.4,"s7":-1.3,"s8":1.5,"s11":1.9,"s12":-1.9,"s13":1.9,"s15":1.6,"s17":2.4,"s20":-1.3,"s21":-2.2},
{"x":218,"s2":1.5,"s3":2,"s4":1.9,"s7":-2,"s8":2.3,"s11":2,"s12":-2.8,"s13":1.7,"s15":1.4,"s17":1.2,"s20":-2.4,"s21":-2},
{"x":219,"s2":1.6,"s3":1.7,"s4":1.6,"s7":-1.7,"s8":1.7,"s11":1.7,"s12":-1.7,"s13":2,"s15":2.1,"s17":1.8,"s20":-1.6,"s21":-1.6},
{"x":220,"s2":1,"s3":1.6,"s4":2.7,"s7":-2.4,"s8":1.2,"s11":1.8,"s12":-1.9,"s13":2.5,"s15":2.5,"s17":1.2,"s20":-2.9,"s21":-1.5},
{"x":221,"s2":1.4,"s3":1.8,"s4":0.9,"s7":-1.9,"s8":1.8,"s11":2,"s12":-2.3,"s13":1.9,"s15":1.8,"s17":1.2,"s20":-1.7,"s21":-2.1},
{"x":222,"s2":1.5,"s3":1.2,"s4":1.6,"s7":-3.3,"s8":1.9,"s11":1.7,"s12":-2.9,"s13":1.6,"s15":1.9,"s17":1.8,"s20":-1.5,"s21":-2.3},
{"x":223,"s2":1,"s3":0.3,"s4":1.8,"s7":-2.6,"s8":1.4,"s11":2.1,"s12":-1.8,"s13":2.1,"s15":1.6,"s17":1.2,"s20":-2.2,"s21":-1.7},
{"x":224,"s2":0.6,"s3":1.5,"s4":1.2,"s7":-2,"s8":1.7,"s11":2.2,"s12":-2.4,"s13":1.8,"s15":2,"s17":1.2,"s20":-0.7,"s21":-2},
{"x":225,"s2":2.6,"s3":1.7,"s4":1.8,"s7":-1.7,"s8":1.2,"s11":1.9,"s12":-2.1,"s13":2,"s15":2.8,"s17":2.4,"s20":-1.8,"s21":-1.6},
{"x":226,"s2":1.5,"s3":1.1,"s4":1.5,"s7":-2.3,"s8":1.9,"s11":2.5,"s12":-2,"s13":2.3,"s15":2.1,"s17":1.2,"s20":-2.5,"s21":-2.2},
{"x":227,"s2":1.3,"s3":1.6,"s4":2,"s7":-2.7,"s8":1.4,"s11":1.6,"s12":-1.7,"s13":1.9,"s15":1.8,"s17":1.8,"s20":-1.6,"s21":-1.9},
{"x":228,"s2":0.9,"s3":2.4,"s4":2.3,"s7":-2.9,"s8":1.8,"s11":2.4,"s12":-1.4,"s13":1.7,"s15":1.6,"s17":1.2,"s20":-1.8,"s21":-2.4},
{"x":229,"s2":2.1,"s3":2.1,"s4":1.9,"s7":-1.6,"s8":1.6,"s11":3.3,"s12":-1.9,"s13":1.7,"s15":1.3,"s17":1.8,"s20":-2.2,"s21":-1.8},
{"x":230,"s2":1.7,"s3":2.2,"s4":2.1,"s7":-2.2,"s8":1.7,"s11":2.2,"s12":-2.2,"s13":2.3,"s15":1,"s17":1.2,"s20":-0.4,"s21":-1.2},
{"x":231,"s2":2.5,"s3":2.5,"s4":2.5,"s7":-2.8,"s8":2.4,"s11":2.2,"s12":-2.6,"s13":2.7,"s15":2.1,"s17":2.4,"s20":-1.9,"s21":-2},
{"x":232,"s2":2.4,"s3":2.9,"s4":3,"s7":-2.4,"s8":2.3,"s11":2.6,"s12":-3,"s13":2,"s15":1.7,"s17":2.4,"s20":-2.8,"s21":-2.9},
{"x":233,"s2":2.4,"s3":2,"s4":2.7,"s7":-2,"s8":2.3,"s11":2.5,"s12":-2,"s13":1.9,"s15":1.8,"s17":1.8,"s20":-2,"s21":-2.8},
{"x":234,"s2":2.3,"s3":1.4,"s4":2.4,"s7":-1.8,"s8":2.9,"s11":2.2,"s12":-2.3,"s13":2.1,"s15":2.8,"s17":2.4,"s20":-1.4,"s21":-2.7}
]
},
"vconcat":[
{"width":946,"height":58,"layer":[{"data":{"name":"series"},"mark":{"type":"line","strokeWidth":1.5},"encoding":{"x":{"field":"x","type":"quantitative","title":null,"scale":{"zero":false,"nice":false,"domain":[-11.66,239.4]},"axis":{"values":[0,50,100,150,200]}},"y":{"field":"s2","type":"quantitative","title":null,"scale":{"zero":false,"nice":false,"padding":2.64},"axis":{"values":[-4,-2,0,2,4]}},"color":{"datum":"sn_2","type":"nominal","scale":{"domain":["sn_2","trend"],"range":["#1f77b4","#ff7f0e"]},"legend":{"title":null,"symbolType":"M-0.4,0H3.6"}}}},{"data":{"name":"trend"},"mark":{"type":"line","strokeWidth":1.5},"encoding":{"x":{"field":"x","type":"quantitative","title":null},"y":{"field":"s2","type":"quantitative","title":null},"color":{"datum":"trend","type":"nominal"}}}]},
{"width":946,"height":58,"layer":[{"data":{"name":"series"},"mark":{"type":"line","strokeWidth":1.5},"encoding":{"x":{"field":"x","type":"quantitative","title":null,"scale":{"zero":false,"nice":false,"domain":[-11.66,239.4]},"axis":{"values":[0,50,100,150,200]}},"y":{"field":"s3","type":"quantitative","title":null,"scale":{"zero":false,"nice":false,"padding":2.64},"axis":{"values":[-4,-2,0,2,4]}},"color":{"datum":"sn_3","type":"nominal","scale":{"domain":["sn_3","trend"],"range":["#1f77b4","#ff7f0e"]},"legend":{"title":null,"symbolType":"M-0.4,0H3.6"}}}},{"data":{"name":"trend"},"mark":{"type":"line","strokeWidth":1.5},"encoding":{"x":{"field":"x","type":"quantitative","title":null},"y":{"field":"s3","type":"quantitative","title":null},"color":{"datum":"trend","type":"nominal"}}}]},
{"width":946,"height":58,"layer":[{"data":{"name":"series"},"mark":{"type":"line","strokeWidth":1.5},"encoding":{"x":{"field":"x","type":"quantitative","title":null,"scale":{"zero":false,"nice":false,"domain":[-11.66,239.4]},"axis":{"values":[0,50,100,150,200]}},"y":{"field":"s4","type":"quantitative","title":null,"scale":{"zero":false,"nice":false,"padding":2.64},"axis":{"values":[-4,-2,0,2,4]}},"color":{"datum":"sn_4","type":"nominal","scale":{"domain":["sn_4","trend"],"range":["#1f77b4","#ff7f0e"]},"legend":{"title":null,"symbolType":"M-0.4,0H3.6"}}}},{"data":{"name":"trend"},"mark":{"type":"line","strokeWidth":1.5},"encoding":{"x":{"field":"x","type":"quantitative","title":null},"y":{"field":"s4","type":"quantitative","title":null},"color":{"datum":"trend","type":"nominal"}}}]},
{"width":946,"height":58,"layer":[{"data":{"name":"series"},"mark":{"type":"line","strokeWidth":1.5},"encoding":{"x":{"field":"x","type":"quantitative","title":null,"scale":{"zero":false,"nice":false,"domain":[-11.66,239.4]},"axis":{"values":[0,50,100,150,200]}},"y":{"field":"s7","type":"quantitative","title":null,"scale":{"zero":false,"nice":false,"padding":2.64},"axis":{"values":[-4,-2,0,2,4]}},"color":{"datum":"sn_7","type":"nominal","scale":{"domain":["sn_7","trend"],"range":["#1f77b4","#ff7f0e"]},"legend":{"title":null,"symbolType":"M-0.4,0H3.6"}}}},{"data":{"name":"trend"},"mark":{"type":"line","strokeWidth":1.5},"encoding":{"x":{"field":"x","type":"quantitative","title":null},"y":{"field":"s7","type":"quantitative","title":null},"color":{"datum":"trend","type":"nominal"}}}]},
{"width":946,"height":58,"layer":[{"data":{"name":"series"},"mark":{"type":"line","strokeWidth":1.5},"encoding":{"x":{"field":"x","type":"quantitative","title":null,"scale":{"zero":false,"nice":false,"domain":[-11.66,239.4]},"axis":{"values":[0,50,100,150,200]}},"y":{"field":"s8","type":"quantitative","title":null,"scale":{"zero":false,"nice":false,"padding":2.64},"axis":{"values":[-4,-2,0,2,4]}},"color":{"datum":"sn_8","type":"nominal","scale":{"domain":["sn_8","trend"],"range":["#1f77b4","#ff7f0e"]},"legend":{"title":null,"symbolType":"M-0.4,0H3.6"}}}},{"data":{"name":"trend"},"mark":{"type":"line","strokeWidth":1.5},"encoding":{"x":{"field":"x","type":"quantitative","title":null},"y":{"field":"s8","type":"quantitative","title":null},"color":{"datum":"trend","type":"nominal"}}}]},
{"width":946,"height":58,"layer":[{"data":{"name":"series"},"mark":{"type":"line","strokeWidth":1.5},"encoding":{"x":{"field":"x","type":"quantitative","title":null,"scale":{"zero":false,"nice":false,"domain":[-11.66,239.4]},"axis":{"values":[0,50,100,150,200]}},"y":{"field":"s11","type":"quantitative","title":null,"scale":{"zero":false,"nice":false,"padding":2.64},"axis":{"values":[-4,-2,0,2,4]}},"color":{"datum":"sn_11","type":"nominal","scale":{"domain":["sn_11","trend"],"range":["#1f77b4","#ff7f0e"]},"legend":{"title":null,"symbolType":"M-0.4,0H3.6"}}}},{"data":{"name":"trend"},"mark":{"type":"line","strokeWidth":1.5},"encoding":{"x":{"field":"x","type":"quantitative","title":null},"y":{"field":"s11","type":"quantitative","title":null},"color":{"datum":"trend","type":"nominal"}}}]},
{"width":946,"height":58,"layer":[{"data":{"name":"series"},"mark":{"type":"line","strokeWidth":1.5},"encoding":{"x":{"field":"x","type":"quantitative","title":null,"scale":{"zero":false,"nice":false,"domain":[-11.66,239.4]},"axis":{"values":[0,50,100,150,200]}},"y":{"field":"s12","type":"quantitative","title":null,"scale":{"zero":false,"nice":false,"padding":2.64},"axis":{"values":[-4,-2,0,2,4]}},"color":{"datum":"sn_12","type":"nominal","scale":{"domain":["sn_12","trend"],"range":["#1f77b4","#ff7f0e"]},"legend":{"title":null,"symbolType":"M-0.4,0H3.6"}}}},{"data":{"name":"trend"},"mark":{"type":"line","strokeWidth":1.5},"encoding":{"x":{"field":"x","type":"quantitative","title":null},"y":{"field":"s12","type":"quantitative","title":null},"color":{"datum":"trend","type":"nominal"}}}]},
{"width":946,"height":58,"layer":[{"data":{"name":"series"},"mark":{"type":"line","strokeWidth":1.5},"encoding":{"x":{"field":"x","type":"quantitative","title":null,"scale":{"zero":false,"nice":false,"domain":[-11.66,239.4]},"axis":{"values":[0,50,100,150,200]}},"y":{"field":"s13","type":"quantitative","title":null,"scale":{"zero":false,"nice":false,"padding":2.64},"axis":{"values":[-4,-2,0,2,4]}},"color":{"datum":"sn_13","type":"nominal","scale":{"domain":["sn_13","trend"],"range":["#1f77b4","#ff7f0e"]},"legend":{"title":null,"symbolType":"M-0.4,0H3.6"}}}},{"data":{"name":"trend"},"mark":{"type":"line","strokeWidth":1.5},"encoding":{"x":{"field":"x","type":"quantitative","title":null},"y":{"field":"s13","type":"quantitative","title":null},"color":{"datum":"trend","type":"nominal"}}}]},
{"width":946,"height":58,"layer":[{"data":{"name":"series"},"mark":{"type":"line","strokeWidth":1.5},"encoding":{"x":{"field":"x","type":"quantitative","title":null,"scale":{"zero":false,"nice":false,"domain":[-11.66,239.4]},"axis":{"values":[0,50,100,150,200]}},"y":{"field":"s15","type":"quantitative","title":null,"scale":{"zero":false,"nice":false,"padding":2.64},"axis":{"values":[-4,-2,0,2,4]}},"color":{"datum":"sn_15","type":"nominal","scale":{"domain":["sn_15","trend"],"range":["#1f77b4","#ff7f0e"]},"legend":{"title":null,"symbolType":"M-0.4,0H3.6"}}}},{"data":{"name":"trend"},"mark":{"type":"line","strokeWidth":1.5},"encoding":{"x":{"field":"x","type":"quantitative","title":null},"y":{"field":"s15","type":"quantitative","title":null},"color":{"datum":"trend","type":"nominal"}}}]},
{"width":946,"height":58,"layer":[{"data":{"name":"series"},"mark":{"type":"line","strokeWidth":1.5},"encoding":{"x":{"field":"x","type":"quantitative","title":null,"scale":{"zero":false,"nice":false,"domain":[-11.66,239.4]},"axis":{"values":[0,50,100,150,200]}},"y":{"field":"s17","type":"quantitative","title":null,"scale":{"zero":false,"nice":false,"padding":2.64},"axis":{"values":[-4,-2,0,2,4]}},"color":{"datum":"sn_17","type":"nominal","scale":{"domain":["sn_17","trend"],"range":["#1f77b4","#ff7f0e"]},"legend":{"title":null,"symbolType":"M-0.4,0H3.6"}}}},{"data":{"name":"trend"},"mark":{"type":"line","strokeWidth":1.5},"encoding":{"x":{"field":"x","type":"quantitative","title":null},"y":{"field":"s17","type":"quantitative","title":null},"color":{"datum":"trend","type":"nominal"}}}]},
{"width":946,"height":58,"layer":[{"data":{"name":"series"},"mark":{"type":"line","strokeWidth":1.5},"encoding":{"x":{"field":"x","type":"quantitative","title":null,"scale":{"zero":false,"nice":false,"domain":[-11.66,239.4]},"axis":{"values":[0,50,100,150,200]}},"y":{"field":"s20","type":"quantitative","title":null,"scale":{"zero":false,"nice":false,"padding":2.64},"axis":{"values":[-4,-2,0,2,4]}},"color":{"datum":"sn_20","type":"nominal","scale":{"domain":["sn_20","trend"],"range":["#1f77b4","#ff7f0e"]},"legend":{"title":null,"symbolType":"M-0.4,0H3.6"}}}},{"data":{"name":"trend"},"mark":{"type":"line","strokeWidth":1.5},"encoding":{"x":{"field":"x","type":"quantitative","title":null},"y":{"field":"s20","type":"quantitative","title":null},"color":{"datum":"trend","type":"nominal"}}}]},
{"width":946,"height":58,"layer":[{"data":{"name":"series"},"mark":{"type":"line","strokeWidth":1.5},"encoding":{"x":{"field":"x","type":"quantitative","title":null,"scale":{"zero":false,"nice":false,"domain":[-11.66,239.4]},"axis":{"values":[0,50,100,150,200]}},"y":{"field":"s21","type":"quantitative","title":null,"scale":{"zero":false,"nice":false,"padding":2.64},"axis":{"values":[-4,-2,0,2,4]}},"color":{"datum":"sn_21","type":"nominal","scale":{"domain":["sn_21","trend"],"range":["#1f77b4","#ff7f0e"]},"legend":{"title":null,"symbolType":"M-0.4,0H3.6"}}}},{"data":{"name":"trend"},"mark":{"type":"line","strokeWidth":1.5},"encoding":{"x":{"field":"x","type":"quantitative","title":null},"y":{"field":"s21","type":"quantitative","title":null},"color":{"datum":"trend","type":"nominal"}}}]}
]
}
